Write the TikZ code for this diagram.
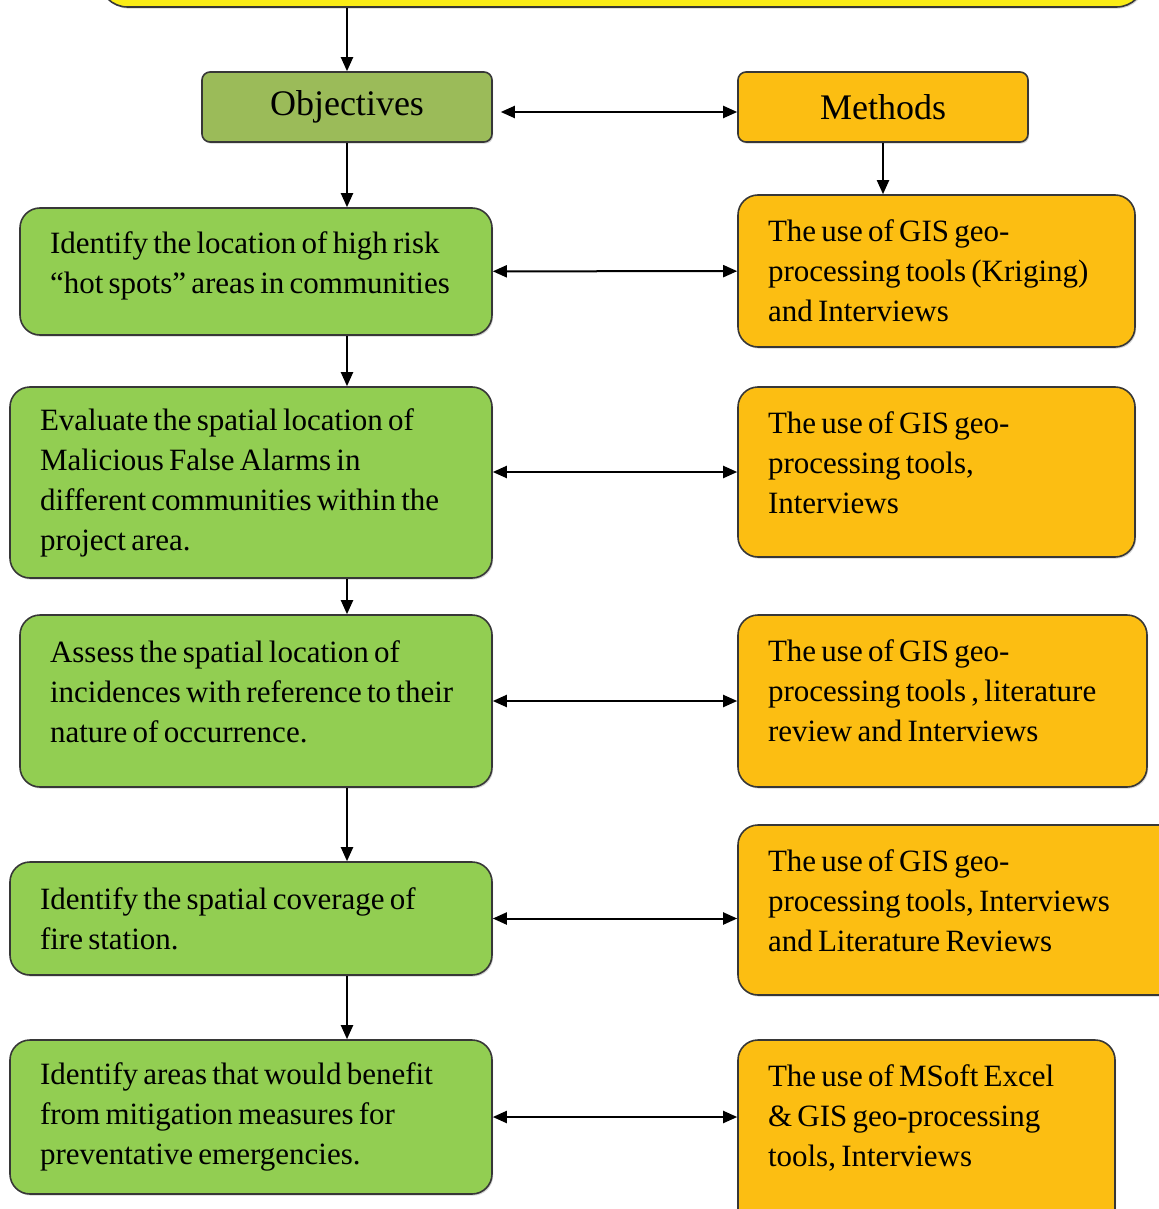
\documentclass[tikz,border=0pt]{standalone}
\usepackage{fontspec}
\setmainfont{Liberation Serif}
\usetikzlibrary{arrows.meta, shadows}
\definecolor{goalyellow}{RGB}{250,236,22}
\definecolor{headgreen}{RGB}{155,187,89}
\definecolor{objgreen}{RGB}{146,206,82}
\definecolor{methorange}{RGB}{252,190,18}
\definecolor{edgegray}{RGB}{55,55,55}
\newcommand{\tightspace}{\setlength{\spaceskip}{0.17em plus 0.05em minus 0.02em}}
\tikzset{
box/.style = {draw=edgegray, line width=0.8pt, rounded corners=#1,
              drop shadow={shadow xshift=0.6pt, shadow yshift=-0.8pt, opacity=0.35}},
box/.default = 10pt, % corner radius
head/.style = {box=4pt, minimum width=145pt, minimum height=35pt,
               font=\fontsize{18pt}{22pt}\selectfont},
item/.style = {box, align=left, inner xsep=15pt, inner ysep=6pt,
               font=\fontsize{15.5pt}{20pt}\selectfont, execute at begin node=\tightspace},
lift/.style = {execute at end node={\par\kern #1\relax}}, % moves the text up
link/.style = {line width=1pt, -{Triangle[length=7pt,width=6pt]}},
both/.style = {line width=1pt, {Triangle[length=7pt,width=6pt]}-{Triangle[length=7pt,width=6pt]}}
}
\newcommand{\downlink}[2]{\draw[link] (#1.south -| obj.south) -- (#2.north -| obj.south);}
\newcommand{\pairlink}[2]{\draw[both] (#1) -- (#2);}

\begin{document}
\begin{tikzpicture}[x=0.5pt, y=-0.5pt]
        \useasboundingbox (0,0) rectangle (1159,1209);
        % heads
        \node[box=14pt, fill=goalyellow, minimum width=522.5pt, minimum height=40pt] (goal) at (622,-33) {};
        \node[head, fill=headgreen] (obj) at (347,107) {Objectives};
        \node[head, fill=methorange] (meth) at (883,107) {Methods};
        % objectives
        \node[item, lift=6pt, fill=objgreen, text width=206pt, minimum height=63.5pt] (g1) at (256,271.5)
            {Identify the location of high risk\\ ``hot spots'' areas in communities};
        \node[item, fill=objgreen, text width=211pt, minimum height=95.5pt] (g2) at (251,482.5)
            {Evaluate the spatial location of\\ Malicious False Alarms in\\ different communities within the\\ project area.};
        \node[item, lift=9pt, fill=objgreen, text width=206pt, minimum height=86pt] (g3) at (256,701)
            {Assess the spatial location of\\ incidences with reference to their\\ nature of occurrence.};
        \node[item, fill=objgreen, text width=211pt, minimum height=56.5pt] (g4) at (251,918.5)
            {Identify the spatial coverage of\\ fire station.};
        \node[item, fill=objgreen, text width=211pt, minimum height=77pt] (g5) at (251,1117)
            {Identify areas that would benefit\\ from mitigation measures for\\ preventative emergencies.};
        % methods
        \node[item, fill=methorange, text width=168.5pt, minimum height=76pt] (m1) at (936.5,271)
            {The use of GIS geo-\\ processing tools (Kriging)\\ and Interviews};
        \node[item, lift=9pt, fill=methorange, text width=168.5pt, minimum height=85pt] (m2) at (936.5,472)
            {The use of GIS geo-\\ processing tools,\\ Interviews};
        \node[item, lift=10pt, fill=methorange, text width=174.5pt, minimum height=86pt] (m3) at (942.5,701)
            {The use of GIS geo-\\ processing tools , literature\\ review and Interviews};
        \node[item, lift=9pt, fill=methorange, text width=191pt, minimum height=85pt] (m4) at (959,910)
            {The use of GIS geo-\\ processing tools, Interviews\\ and Literature Reviews};
        \node[item, lift=17pt, fill=methorange, text width=158.5pt, minimum height=95pt] (m5) at (926.5,1135)
            {The use of MSoft Excel\\ \& GIS geo-processing\\ tools, Interviews};
        % connectors
        \draw[link] (goal.south -| obj.north) -- (obj.north);
        \draw[link] (meth.south) -- (m1.north -| meth.south);
        \draw[both, shorten <=4pt] ([yshift=-2.5pt]obj.east) -- ([yshift=-2.5pt]meth.west);
        \downlink{obj}{g1}
        \downlink{g1}{g2}
        \downlink{g2}{g3}
        \downlink{g3}{g4}
        \downlink{g4}{g5}
        \pairlink{g1}{m1}
        \draw[both] (g2.east |- m2.west) -- (m2.west);
        \draw[both] (g3.east) -- (g3.east -| m3.west);
        \draw[both] (g4.east) -- (g4.east -| m4.west);
        \draw[both] (g5.east) -- (g5.east -| m5.west);
\end{tikzpicture}
\end{document}
